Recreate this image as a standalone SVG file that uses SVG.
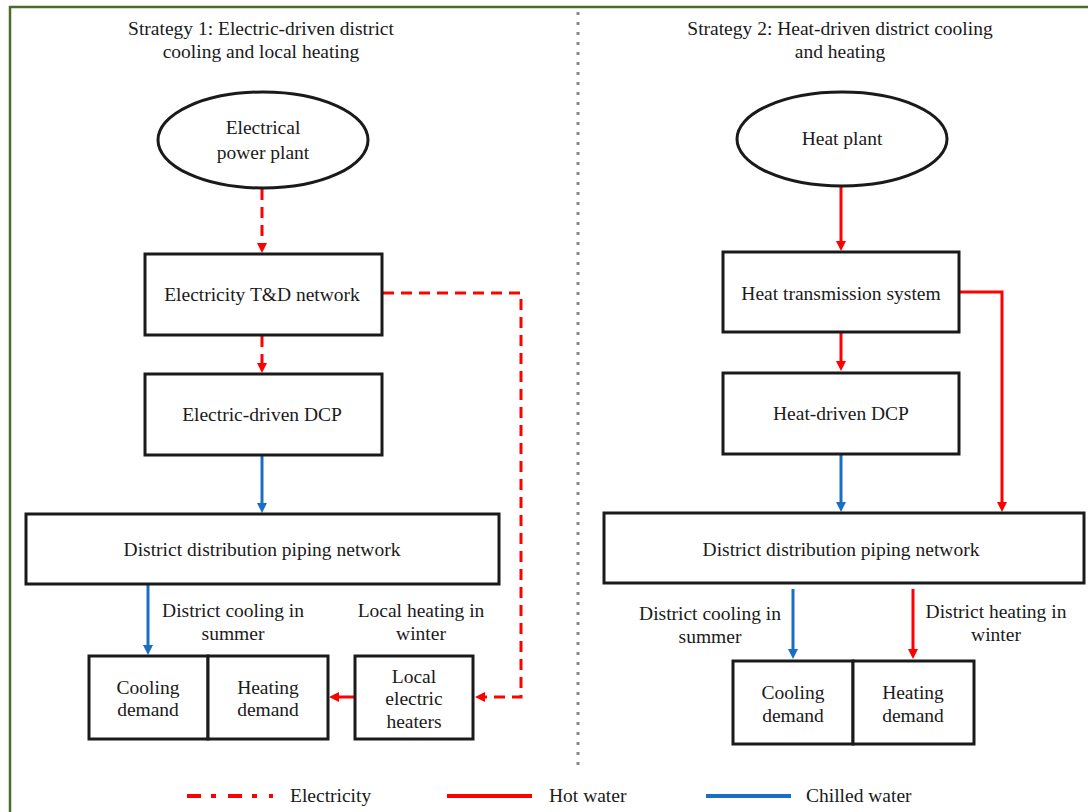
<svg xmlns="http://www.w3.org/2000/svg" width="1088" height="812" viewBox="0 0 1088 812">
<style>
text{font-family:"Liberation Serif","Times New Roman",serif;font-size:19.5px;fill:#1a1a1a;text-anchor:middle}
.box{fill:#fff;stroke:#1a1a1a;stroke-width:3}
.red{fill:none;stroke:#ff0000;stroke-width:3}
.blue{fill:none;stroke:#1a6fc4;stroke-width:3}
.dash{stroke-dasharray:11 7}
</style>
<defs>
<marker id="ar" viewBox="0 0 10 10" refX="2" refY="5" markerWidth="10" markerHeight="10" markerUnits="userSpaceOnUse" orient="auto"><path d="M0,0 L10,5 L0,10 z" fill="#ff0000"/></marker>
<marker id="ab" viewBox="0 0 10 10" refX="2" refY="5" markerWidth="10" markerHeight="10" markerUnits="userSpaceOnUse" orient="auto"><path d="M0,0 L10,5 L0,10 z" fill="#1a6fc4"/></marker>
</defs>
<rect x="0" y="0" width="1088" height="812" fill="#fff"/>
<rect x="10" y="7" width="1100" height="830" fill="none" stroke="#4d6b2c" stroke-width="2.5"/>
<line x1="578" y1="12" x2="578" y2="772" stroke="#888" stroke-width="3" stroke-dasharray="3 7"/>

<g id="titles">
<text x="261" y="35">Strategy 1: Electric-driven district</text>
<text x="261" y="58">cooling and local heating</text>
<text x="840" y="35">Strategy 2: Heat-driven district cooling</text>
<text x="840" y="58">and heating</text>
</g>

<g id="connectors">
<line class="red dash" x1="262" y1="189" x2="262" y2="245" marker-end="url(#ar)"/>
<line class="red dash" x1="262" y1="336" x2="262" y2="365" marker-end="url(#ar)"/>
<path class="red dash" d="M383,293 H521 V697 H483" marker-end="url(#ar)"/>
<line class="blue" x1="262" y1="456" x2="262" y2="505" marker-end="url(#ab)"/>
<line class="blue" x1="148" y1="585" x2="148" y2="647" marker-end="url(#ab)"/>
<line class="red" x1="355" y1="697" x2="337" y2="697" marker-end="url(#ar)"/>
<line class="red" x1="841" y1="187" x2="841" y2="243" marker-end="url(#ar)"/>
<path class="red" d="M960,292 H1002 V504" marker-end="url(#ar)"/>
<line class="red" x1="841" y1="333" x2="841" y2="363" marker-end="url(#ar)"/>
<line class="blue" x1="841" y1="455" x2="841" y2="504" marker-end="url(#ab)"/>
<line class="blue" x1="793" y1="589" x2="793" y2="651" marker-end="url(#ab)"/>
<line class="red" x1="913" y1="589" x2="913" y2="651" marker-end="url(#ar)"/>
</g>

<g id="power-plant">
<ellipse class="box" cx="263" cy="140" rx="105" ry="48"/>
<text x="263" y="134">Electrical</text>
<text x="263" y="159">power plant</text>
</g>
<g id="td-network">
<rect class="box" x="145" y="254" width="237" height="81"/>
<text x="262" y="301">Electricity T&amp;D network</text>
</g>
<g id="electric-dcp">
<rect class="box" x="145" y="374" width="237" height="81"/>
<text x="262" y="421">Electric-driven DCP</text>
</g>
<g id="left-piping">
<rect class="box" x="26" y="514" width="473" height="70"/>
<text x="262" y="556">District distribution piping network</text>
</g>
<g id="left-labels">
<text x="233" y="617">District cooling in</text>
<text x="233" y="640">summer</text>
<text x="421" y="617">Local heating in</text>
<text x="421" y="640">winter</text>
</g>
<g id="left-cooling-demand">
<rect class="box" x="89" y="656" width="119" height="83"/>
<text x="148" y="694">Cooling</text>
<text x="148" y="716">demand</text>
</g>
<g id="left-heating-demand">
<rect class="box" x="208" y="656" width="120" height="83"/>
<text x="268" y="694">Heating</text>
<text x="268" y="716">demand</text>
</g>
<g id="local-heaters">
<rect class="box" x="355" y="656" width="118" height="83"/>
<text x="414" y="683">Local</text>
<text x="414" y="705">electric</text>
<text x="414" y="728">heaters</text>
</g>

<g id="heat-plant">
<ellipse class="box" cx="842" cy="139" rx="105" ry="47"/>
<text x="842" y="145">Heat plant</text>
</g>
<g id="heat-transmission">
<rect class="box" x="723" y="252" width="236" height="80"/>
<text x="841" y="300">Heat transmission system</text>
</g>
<g id="heat-dcp">
<rect class="box" x="723" y="373" width="236" height="81"/>
<text x="841" y="420">Heat-driven DCP</text>
</g>
<g id="right-piping">
<rect class="box" x="604" y="513" width="480" height="70"/>
<text x="841" y="556">District distribution piping network</text>
</g>
<g id="right-labels">
<text x="710" y="620">District cooling in</text>
<text x="710" y="643">summer</text>
<text x="996" y="618">District heating in</text>
<text x="996" y="641">winter</text>
</g>
<g id="right-cooling-demand">
<rect class="box" x="733" y="661" width="120" height="83"/>
<text x="793" y="699">Cooling</text>
<text x="793" y="722">demand</text>
</g>
<g id="right-heating-demand">
<rect class="box" x="853" y="661" width="121" height="83"/>
<text x="913" y="699">Heating</text>
<text x="913" y="722">demand</text>
</g>

<g id="legend">
<line x1="187" y1="796" x2="273" y2="796" stroke="#ff0000" stroke-width="4" stroke-dasharray="14 10 5 12"/>
<text x="290" y="802" style="text-anchor:start">Electricity</text>
<line x1="447" y1="796" x2="532" y2="796" stroke="#ff0000" stroke-width="4"/>
<text x="549" y="802" style="text-anchor:start">Hot water</text>
<line x1="706" y1="796" x2="791" y2="796" stroke="#1a6fc4" stroke-width="4"/>
<text x="806" y="802" style="text-anchor:start">Chilled water</text>
</g>
</svg>
